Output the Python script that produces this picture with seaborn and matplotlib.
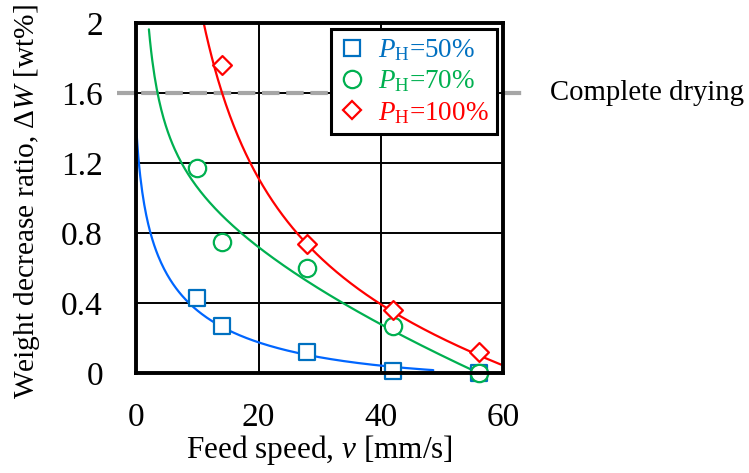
import matplotlib
matplotlib.use("Agg")
import matplotlib.pyplot as plt
from matplotlib.lines import Line2D
import numpy as np
import pandas as pd
import seaborn as sns

# Measured points: feed speed [mm/s] vs weight decrease ratio [wt%]
speed = [10, 14, 28, 42, 56]
dw_50 = [0.43, 0.27, 0.12, 0.01, 0.0]
dw_70 = [1.17, 0.75, 0.60, 0.27, 0.0]
speed_100 = [14, 28, 42, 56]
dw_100 = [1.76, 0.74, 0.36, 0.12]

# Points along the trend curves (feed speed, weight decrease ratio)
fit50_x = [0.0, 0.37, 1.1, 2.2, 4.5, 8.3, 11.9, 14.0, 18.6, 26.7, 33.5, 40.1, 48.6]
fit50_y = [1.40, 1.20, 1.04, 0.80, 0.60, 0.40, 0.31, 0.266, 0.194, 0.124, 0.078, 0.038, 0.012]
fit70_x = [2.06, 3.15, 4.8, 8.0, 9.8, 14.3, 18.6, 20.7, 26.7, 33.0, 40.1, 48.0, 57.0]
fit70_y = [2.00, 1.60, 1.40, 1.20, 1.11, 0.895, 0.752, 0.695, 0.533, 0.40, 0.276, 0.14, 0.0]
fit100_x = [10.9, 13.3, 14.2, 15.8, 18.8, 19.9, 20.7, 26.2, 27.8, 34.9, 40.1, 41.9, 49.1, 56.0, 59.7]
fit100_y = [2.00, 1.70, 1.603, 1.447, 1.20, 1.105, 1.038, 0.80, 0.74, 0.514, 0.40, 0.36, 0.229, 0.118, 0.023]

complete_drying = 1.6
labels = ["$P_{\\mathrm{H}}$=50%", "$P_{\\mathrm{H}}$=70%", "$P_{\\mathrm{H}}$=100%"]
x_ticks = [0, 20, 40, 60]
y_ticks = [0, 0.4, 0.8, 1.2, 1.6, 2.0]
y_ticklabels = ["0", "0.4", "0.8", "1.2", "1.6", "2"]

marker_colors = ["#0070C0", "#00B050", "#FF0000"]
curve_colors = ["#0066FF", "#00B050", "#FF0000"]
markers = ["s", "o", "D"]


def log_trend(xs, ys, shift=0.0, deg=3, n=300):
    """Least-squares trend of y against log(speed), sampled over the curve's span."""
    xs = np.asarray(xs, dtype=float)
    coef = np.polyfit(np.log(xs + shift), ys, deg)
    xx = np.linspace(xs.min(), xs.max(), n)
    return xx, np.polyval(coef, np.log(xx + shift))


sns.set_theme(style="white")
plt.rcParams["font.family"] = ["Liberation Serif", "DejaVu Serif"]
plt.rcParams["mathtext.fontset"] = "custom"
plt.rcParams["mathtext.rm"] = "Liberation Serif"
plt.rcParams["mathtext.it"] = "Liberation Serif:italic"
plt.rcParams["mathtext.bf"] = "Liberation Serif:bold"

points = pd.concat([
    pd.DataFrame({"v": speed, "dw": dw_50, "series": labels[0]}),
    pd.DataFrame({"v": speed, "dw": dw_70, "series": labels[1]}),
    pd.DataFrame({"v": speed_100, "dw": dw_100, "series": labels[2]}),
], ignore_index=True)

trend_frames = []
for (fx, fy, shift), lab in zip([(fit50_x, fit50_y, 0.3), (fit70_x, fit70_y, 0.0),
                                 (fit100_x, fit100_y, 0.0)], labels):
    tx, ty = log_trend(fx, fy, shift)
    trend_frames.append(pd.DataFrame({"v": tx, "dw": ty, "series": lab}))
curves = pd.concat(trend_frames, ignore_index=True)

fig = plt.figure(figsize=(7.49, 4.73), dpi=100)
ax = fig.add_axes([0.182, 0.211, 0.4895, 0.740])

ax.set_xlim(0, 60)
ax.set_ylim(0, 2)
ax.set_xticks(x_ticks)
ax.set_yticks(y_ticks)
ax.set_yticklabels(y_ticklabels)
ax.grid(True, color="black", linewidth=1.4)
ax.set_axisbelow(True)

# threshold line for complete drying, running past both spines
ax.axhline(complete_drying, xmin=-0.053, xmax=1.065, color="#A6A6A6",
           linewidth=3.0, dashes=(4.2, 1.6), clip_on=False, zorder=2.5)
ax.text(1.127, complete_drying, "Complete drying", transform=ax.get_yaxis_transform(),
        ha="left", va="center", fontsize=20.7, color="black")

sns.lineplot(data=curves, x="v", y="dw", hue="series", palette=curve_colors,
             sort=False, estimator=None, legend=False, linewidth=1.6, ax=ax, zorder=3)

sizes = [12.0, 12.5, 9.6]
for i, lab in enumerate(labels):
    sub = points[points["series"] == lab]
    sns.scatterplot(data=sub, x="v", y="dw", marker=markers[i], s=sizes[i] ** 2,
                    facecolor="white", edgecolor=marker_colors[i], linewidth=1.6,
                    ax=ax, zorder=4 + i, clip_on=False, legend=False)

for s in ax.spines.values():
    s.set_color("black")
    s.set_linewidth(2.8)
    s.set_zorder(10)

ax.tick_params(axis="both", length=0, labelsize=24, colors="black")
ax.tick_params(axis="y", pad=24)
ax.tick_params(axis="x", pad=21)

ax.set_xlabel("Feed speed, $v$ [mm/s]", fontsize=22.5, color="black")
ax.set_ylabel("Weight decrease ratio, $\\mathit{Δ}W$ [wt%]", fontsize=21.2, color="black")
ax.xaxis.set_label_coords(0.5, -0.17)
ax.yaxis.set_label_coords(-0.256, 0.49)

handles = [Line2D([], [], linestyle="none", marker=markers[i], markersize=sizes[i],
                  markerfacecolor="white", markeredgecolor=marker_colors[i],
                  markeredgewidth=1.6) for i in range(3)]
leg = ax.legend(handles, labels, loc="upper right", bbox_to_anchor=(0.983, 0.983),
                borderaxespad=0, fontsize=19.5, frameon=True, fancybox=False,
                framealpha=1, edgecolor="black", handlelength=1.0, handletextpad=0.45,
                borderpad=0.3, labelspacing=0.2)
leg.get_frame().set_linewidth(2.2)
for t, c in zip(leg.get_texts(), marker_colors):
    t.set_color(c)
leg.set_zorder(20)

fig.savefig("out.png", dpi=100, facecolor="white")
